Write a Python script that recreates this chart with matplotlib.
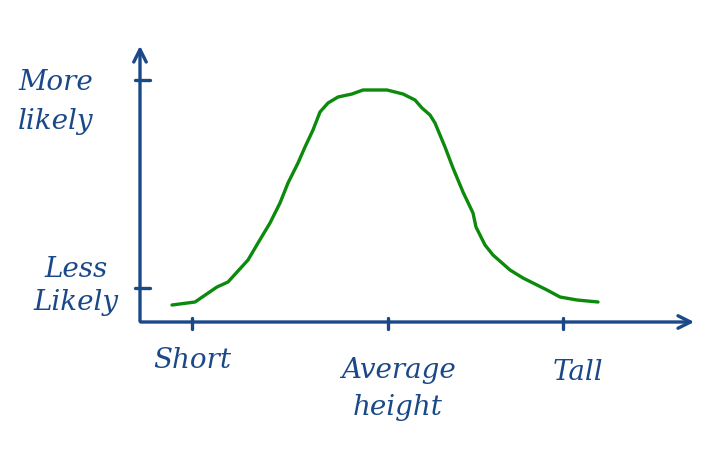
import matplotlib
matplotlib.use("Agg")
import matplotlib.pyplot as plt

# Curve (x: horizontal distance from y-axis, y: height above x-axis)
curve_x = [32, 55, 77, 88, 108, 118, 130, 140, 148, 158, 165, 173, 180, 188, 198, 212, 223,
           247, 263, 275, 282, 290, 295, 305, 313, 323, 333, 336, 345, 353, 370, 383, 393,
           407, 420, 437, 458]
curve_y = [17, 20, 35, 40, 62, 79, 99, 119, 139, 159, 175, 192, 210, 219, 225, 228, 232,
           232, 228, 222, 214, 207, 199, 175, 154, 130, 109, 95, 77, 67, 52, 44, 39,
           32, 25, 22, 20]

x_tick_pos = [52, 248, 423]
x_tick_labels = ["Short", "Average\nheight", "Tall"]
y_tick_pos = [34, 242]
y_tick_labels = ["Less\nLikely", "More\nlikely"]

BLUE = "#1a4888"
GREEN = "#0c8a0c"

fig = plt.figure(figsize=(7.28, 4.67), dpi=100)
ax = fig.add_axes([0, 0, 1, 1])
ax.set_xlim(-140, 588)
ax.set_ylim(-145, 322)
ax.axis("off")

# axes with open arrow heads
ax.annotate("", xy=(557, 0), xytext=(-2, 0),
            arrowprops=dict(arrowstyle="->,head_length=0.9,head_width=0.45", color=BLUE, lw=2.4))
ax.annotate("", xy=(0, 279), xytext=(0, -2),
            arrowprops=dict(arrowstyle="->,head_length=0.9,head_width=0.45", color=BLUE, lw=2.4))

# ticks
for xp in x_tick_pos:
    ax.plot([xp, xp], [-7, 4], color=BLUE, lw=2.4, solid_capstyle="round")
for yp in y_tick_pos:
    ax.plot([-5, 10], [yp, yp], color=BLUE, lw=2.4, solid_capstyle="round")

# curve
ax.plot(curve_x, curve_y, color=GREEN, lw=2.4, solid_capstyle="round", solid_joinstyle="round")

font = dict(family="DejaVu Serif", style="italic", color=BLUE, fontsize=20)
# x labels
ax.text(52, -38, x_tick_labels[0], ha="center", va="center", **font)
ax.text(258, -67, x_tick_labels[1], ha="center", va="center", linespacing=1.45, **font)
ax.text(438, -50, x_tick_labels[2], ha="center", va="center", **font)
# y labels
ax.text(-64, 36, y_tick_labels[0], ha="center", va="center", linespacing=1.3, **font)
ax.text(-84, 220, y_tick_labels[1], ha="center", va="center", linespacing=1.6, **font)

fig.savefig("out.png", dpi=100)
